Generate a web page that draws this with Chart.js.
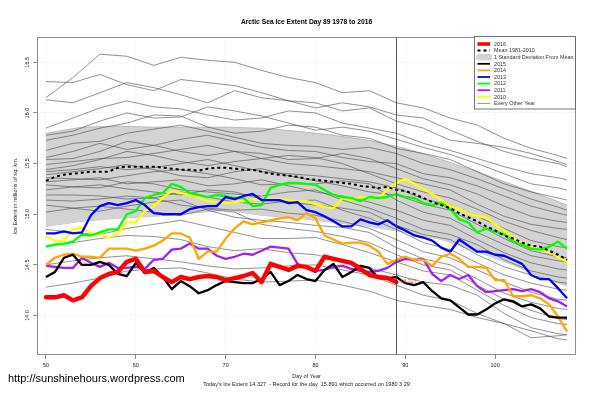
<!DOCTYPE html>
<html><head><meta charset="utf-8">
<script src="https://cdn.jsdelivr.net/npm/chart.js@4.4.1/dist/chart.umd.min.js"></script>
<style>html,body{margin:0;padding:0;background:#fff}canvas{display:block}</style>
</head><body>
<canvas id="c" width="600" height="399"></canvas>
<script>
const FAM = '"Liberation Sans", Arial, sans-serif';
const titleText = 'Arctic Sea Ice Extent Day 89 1978 to 2016';
const yTitle = 'Ice Extent in millions of sq. km.';
const xTitle = 'Day of Year';
const subText = "Today's Ice Extent 14.327  - Record for the day  15.891 which occurred on 1980 3 29";
const urlText = 'http://sunshinehours.wordpress.com';
const markDay = 89;
const todayValue = 14.327;
const todayLabel = '14.327';

const xTicks = [50, 60, 70, 80, 90, 100];
const yTicks = [14.0, 14.5, 15.0, 15.5, 16.0, 16.5];
const yTickLabels = ['14.0', '14.5', '15.0', '15.5', '16.0', '16.5'];

const days = [50,51,52,53,54,55,56,57,58,59,60,61,62,63,64,65,66,67,68,69,70,71,72,73,74,75,76,77,78,79,
  80,81,82,83,84,85,86,87,88,89,90,91,92,93,94,95,96,97,98,99,100,101,102,103,104,105,106,107,108];

const y2016 = [14.18,14.18,14.20,14.15,14.18,14.29,14.37,14.41,14.43,14.53,14.56,14.43,14.44,14.38,14.33,14.38,14.36,14.38,14.39,14.38,
  14.35,14.37,14.39,14.42,14.33,14.51,14.48,14.45,14.49,14.48,14.44,14.58,14.56,14.54,14.52,14.46,14.40,14.38,14.37,14.33];
const y2015 = [14.38,14.43,14.57,14.60,14.50,14.50,14.53,14.50,14.41,14.39,14.52,14.42,14.47,14.38,14.26,14.34,14.29,14.22,14.25,14.30,
  14.34,14.33,14.32,14.32,14.36,14.43,14.30,14.34,14.40,14.36,14.34,14.45,14.51,14.38,14.43,14.49,14.47,14.37,14.37,14.38,
  14.32,14.30,14.33,14.24,14.17,14.15,14.08,14.01,14.01,14.06,14.12,14.16,14.14,14.09,14.11,14.07,13.99,13.98,13.98];
const y2014 = [14.50,14.57,14.60,14.61,14.58,14.58,14.57,14.66,14.66,14.66,14.64,14.66,14.69,14.74,14.81,14.81,14.77,14.56,14.63,14.63,
  14.76,14.86,14.93,14.90,14.92,14.94,14.96,14.97,14.94,15.01,14.96,14.79,14.75,14.71,14.72,14.72,14.69,14.63,14.51,14.55,
  14.58,14.55,14.55,14.49,14.58,14.61,14.56,14.48,14.48,14.47,14.35,14.35,14.19,14.19,14.20,14.17,14.11,13.99,13.84];
const y2013 = [14.81,14.81,14.83,14.81,14.82,14.99,15.08,15.11,15.09,15.11,15.14,15.09,15.01,15.00,15.00,15.00,15.05,15.07,15.08,15.08,
  15.17,15.15,15.18,15.20,15.14,15.14,15.14,15.11,15.12,15.04,15.02,14.98,14.93,14.88,14.88,14.95,14.92,14.90,14.94,14.88,
  14.84,14.79,14.77,14.74,14.67,14.63,14.75,14.69,14.63,14.63,14.60,14.59,14.55,14.51,14.40,14.36,14.36,14.27,14.17];
const y2012 = [14.68,14.70,14.71,14.73,14.80,14.79,14.82,14.85,14.85,15.00,15.03,15.16,15.19,15.21,15.30,15.27,15.21,15.19,15.17,15.19,
  15.18,15.16,15.16,15.08,15.09,15.26,15.29,15.31,15.31,15.30,15.29,15.24,15.19,15.17,15.16,15.13,15.17,15.16,15.17,15.20,
  15.17,15.16,15.11,15.09,15.11,15.05,14.95,14.92,14.82,14.86,14.83,14.80,14.73,14.70,14.66,14.65,14.68,14.73,14.66];
const y2011 = [14.49,14.48,14.47,14.47,14.57,14.52,14.48,14.52,14.47,14.47,14.48,14.46,14.55,14.56,14.65,14.66,14.71,14.66,14.66,14.59,
  14.56,14.58,14.61,14.60,14.64,14.68,14.67,14.66,14.51,14.47,14.44,14.45,14.48,14.49,14.46,14.44,14.43,14.44,14.47,14.53,
  14.56,14.55,14.56,14.41,14.34,14.40,14.36,14.40,14.29,14.23,14.24,14.25,14.26,14.24,14.26,14.23,14.17,14.14,14.09];
const y2010 = [14.78,14.74,14.74,14.85,14.87,14.81,14.80,14.77,14.81,14.92,14.92,15.03,15.08,15.16,15.23,15.21,15.19,15.16,15.13,15.12,
  15.11,15.12,15.13,15.15,15.14,15.15,15.15,15.14,15.13,15.13,15.10,15.07,15.06,15.16,15.14,15.17,15.16,15.16,15.24,15.31,
  15.35,15.30,15.25,15.20,15.14,15.08,15.05,15.01,14.98,14.97,14.90,14.84,14.77,14.71,14.68,14.65,14.63,14.58,14.53];
const meanValues = [15.33,15.37,15.39,15.40,15.41,15.42,15.42,15.42,15.46,15.47,15.47,15.47,15.47,15.46,15.45,15.44,15.44,15.43,15.45,15.46,
  15.46,15.45,15.44,15.44,15.42,15.40,15.39,15.38,15.37,15.35,15.34,15.33,15.32,15.31,15.30,15.28,15.27,15.26,15.27,15.24,
  15.23,15.20,15.16,15.12,15.09,15.06,15.01,14.97,14.93,14.88,14.84,14.79,14.76,14.72,14.69,14.68,14.64,14.60,14.55];

const bandDays = [50,54,58,62,66,70,74,78,82,86,90,94,98,102,106,108];
const bandUpper = [15.80,15.86,15.87,15.86,15.86,15.86,15.85,15.82,15.78,15.73,15.65,15.54,15.42,15.29,15.16,15.09];
const bandLower = [14.88,14.93,14.96,14.98,15.01,15.04,14.99,14.96,14.92,14.88,14.82,14.75,14.63,14.50,14.35,14.29];

const grayDays = [50,53,56,59,62,65,68,71,74,77,80,83,86,89,92,95,98,101,104,107,108];
const grayYears = [
  [16.15,16.35,16.58,16.56,16.47,16.55,16.52,16.50,16.42,16.35,16.30,16.20,16.22,16.10,16.05,15.95,15.88,15.75,15.65,15.58,15.55],
  [16.31,16.30,16.38,16.28,16.22,16.33,16.30,16.27,16.20,16.12,16.05,16.10,16.06,15.98,15.95,15.83,15.72,15.62,15.55,15.50,15.47],
  [16.13,16.10,16.20,16.30,16.25,16.18,16.10,16.22,16.15,16.12,16.10,16.02,16.05,15.92,15.85,15.73,15.70,15.66,15.60,15.52,15.49],
  [15.85,15.95,16.05,16.12,16.06,16.04,15.98,15.93,15.95,16.02,16.00,15.90,15.85,15.80,15.70,15.63,15.55,15.47,15.40,15.36,15.34],
  [15.78,15.82,15.92,16.00,15.95,15.96,16.06,16.02,15.97,15.90,15.83,15.86,15.82,15.74,15.66,15.59,15.50,15.40,15.30,15.26,15.24],
  [15.73,15.78,15.85,15.90,15.98,15.97,15.86,15.80,15.82,15.88,15.86,15.78,15.75,15.65,15.60,15.54,15.42,15.30,15.22,15.16,15.14],
  [15.63,15.70,15.72,15.80,15.84,15.88,15.82,15.76,15.70,15.68,15.67,15.64,15.66,15.60,15.50,15.44,15.35,15.25,15.15,15.07,15.04],
  [15.56,15.62,15.70,15.64,15.68,15.74,15.78,15.72,15.66,15.63,15.62,15.56,15.52,15.50,15.40,15.36,15.28,15.18,15.08,15.01,14.99],
  [15.54,15.55,15.62,15.72,15.68,15.62,15.58,15.62,15.60,15.54,15.55,15.60,15.55,15.45,15.35,15.29,15.20,15.08,14.98,14.93,14.92],
  [15.49,15.52,15.55,15.56,15.60,15.64,15.68,15.62,15.55,15.50,15.48,15.45,15.42,15.36,15.30,15.24,15.10,14.98,14.90,14.86,14.85],
  [15.44,15.48,15.54,15.62,15.58,15.52,15.48,15.52,15.55,15.58,15.56,15.50,15.40,15.30,15.22,15.16,15.05,14.93,14.84,14.77,14.75],
  [15.42,15.44,15.47,15.44,15.46,15.50,15.54,15.48,15.42,15.40,15.38,15.35,15.32,15.26,15.15,15.09,14.98,14.86,14.74,14.68,14.67],
  [15.39,15.42,15.45,15.49,15.44,15.38,15.36,15.42,15.45,15.38,15.33,15.28,15.22,15.19,15.10,15.04,14.90,14.76,14.64,14.58,14.57],
  [15.36,15.35,15.34,15.38,15.42,15.44,15.40,15.35,15.29,15.30,15.30,15.33,15.30,15.14,15.02,14.96,14.82,14.70,14.59,14.54,14.53],
  [15.32,15.34,15.36,15.30,15.32,15.34,15.28,15.30,15.34,15.28,15.22,15.18,15.12,15.04,14.94,14.89,14.75,14.62,14.52,14.46,14.45],
  [15.29,15.27,15.26,15.32,15.30,15.24,15.22,15.20,15.18,15.22,15.24,15.14,15.06,14.96,14.85,14.80,14.70,14.55,14.44,14.38,14.37],
  [15.24,15.27,15.29,15.25,15.22,15.19,15.24,15.22,15.15,15.12,15.09,15.06,15.02,14.89,14.80,14.75,14.60,14.48,14.40,14.33,14.32],
  [15.19,15.19,15.18,15.15,15.16,15.22,15.17,15.12,15.10,15.13,15.14,15.04,14.96,14.85,14.72,14.65,14.52,14.40,14.32,14.26,14.25],
  [15.14,15.13,15.15,15.18,15.16,15.09,15.06,15.04,15.05,15.01,14.99,14.93,14.86,14.75,14.63,14.57,14.45,14.33,14.23,14.16,14.15],
  [15.09,15.06,15.03,15.08,15.12,15.14,15.04,14.97,14.94,14.92,14.89,14.87,14.82,14.67,14.56,14.50,14.36,14.22,14.13,14.07,14.06],
  [15.02,15.06,15.08,15.05,15.02,14.99,15.05,15.02,14.90,14.86,14.83,14.78,14.72,14.60,14.50,14.45,14.30,14.16,14.05,13.97,13.96],
  [14.85,14.82,14.80,14.86,14.90,14.94,14.88,14.82,14.76,14.76,14.77,14.70,14.62,14.53,14.44,14.40,14.25,14.10,13.98,13.92,13.91],
  [14.68,14.72,14.76,14.79,14.78,14.75,14.68,14.64,14.66,14.62,14.60,14.54,14.47,14.40,14.33,14.30,14.20,14.02,13.88,13.82,13.81],
  [14.50,14.54,14.57,14.59,14.56,14.53,14.49,14.46,14.47,14.49,14.50,14.45,14.40,14.30,14.20,14.15,14.02,13.92,13.78,13.80,13.81],
  [14.28,14.32,14.37,14.44,14.46,14.47,14.42,14.36,14.33,14.34,14.35,14.30,14.24,14.15,14.10,14.06,13.98,13.92,13.85,13.77,13.76]
];

const legendItems = [
  {label:'2016', color:'#ff0000', width:3.5},
  {label:'Mean 1981-2010', color:'#000', width:2, dash:[3,3]},
  {label:'1 Standard Deviation From Mean', box:'#d3d3d3'},
  {label:'2015', color:'#000000', width:1.8},
  {label:'2014', color:'#ffa500', width:1.8},
  {label:'2013', color:'#0000ff', width:1.8},
  {label:'2012', color:'#00ff00', width:1.8},
  {label:'2011', color:'#a020f0', width:1.8},
  {label:'2010', color:'#ffff00', width:1.8},
  {label:'Every Other Year', color:'#777', width:0.8}
];

function pts(xs, ys) { return ys.map((v, i) => ({x: xs[i], y: v})); }
function line(data, color, width, order, extra) {
  return Object.assign({data, borderColor: color, borderWidth: width, pointRadius: 0, fill: false, order}, extra || {});
}

const datasets = [];
datasets.push(line(pts(days, y2016), '#ff0000', 4.4, 0, {borderCapStyle:'round'}));
datasets.push(line(pts(days, meanValues), '#000000', 2, 1, {borderDash:[3,3]}));
datasets.push(line(pts(days, y2015), '#000000', 2.3, 2));
datasets.push(line(pts(days, y2014), '#ffa500', 2.3, 3));
datasets.push(line(pts(days, y2013), '#0000ff', 2.3, 4));
datasets.push(line(pts(days, y2012), '#00ff00', 2.3, 5));
datasets.push(line(pts(days, y2011), '#a020f0', 2.3, 6));
datasets.push(line(pts(days, y2010), '#ffff00', 2.3, 7));
grayYears.forEach((g, i) => datasets.push(line(pts(grayDays, g), 'rgba(70,70,70,0.85)', 0.7, 20 + i)));
datasets.push(line(pts(bandDays, bandUpper), '#9a9a9a', 0.6, 100, {fill: '+1', backgroundColor: '#d3d3d3'}));
datasets.push(line(pts(bandDays, bandLower), '#9a9a9a', 0.6, 101));

const decor = {
  id: 'decor',
  afterDatasetsDraw(chart) {
    const {ctx, chartArea: a, scales: {x, y}} = chart;
    ctx.save();
    const xv = Math.round(x.getPixelForValue(markDay)) + 0.5;
    ctx.strokeStyle = '#333'; ctx.lineWidth = 0.8;
    ctx.beginPath(); ctx.moveTo(xv, a.top); ctx.lineTo(xv, a.bottom); ctx.stroke();
    ctx.fillStyle = '#ff3c3c'; ctx.font = '5.4px ' + FAM;
    ctx.textAlign = 'left'; ctx.textBaseline = 'middle';
    ctx.fillText(todayLabel, x.getPixelForValue(markDay) + 4, y.getPixelForValue(todayValue) - 0.5);
    ctx.strokeStyle = '#8c8c8c'; ctx.lineWidth = 1;
    ctx.strokeRect(Math.round(a.left) + 0.5, Math.round(a.top) + 0.5, Math.round(a.right - a.left) - 1, Math.round(a.bottom - a.top) - 1);
    const lx = 474.5, ly = 36.5, lw = a.right - 0.5 - lx, lh = 72.5;
    ctx.fillStyle = '#fff'; ctx.fillRect(lx, ly, lw, lh);
    ctx.strokeStyle = '#555'; ctx.lineWidth = 0.8; ctx.strokeRect(lx, ly, lw, lh);
    ctx.font = '5.4px ' + FAM; ctx.textBaseline = 'middle';
    legendItems.forEach((it, i) => {
      const cy = 44 + i * 6.6;
      if (it.box) {
        ctx.fillStyle = it.box;
        ctx.beginPath();
        if (ctx.roundRect) ctx.roundRect(476, cy - 3.3, 16, 6.6, 3); else ctx.rect(476, cy - 3.3, 16, 6.6);
        ctx.fill();
      } else {
        ctx.strokeStyle = it.color; ctx.lineWidth = it.width;
        ctx.setLineDash(it.dash || []);
        ctx.beginPath(); ctx.moveTo(477.5, cy); ctx.lineTo(490, cy); ctx.stroke();
        ctx.setLineDash([]);
      }
      ctx.fillStyle = '#333';
      ctx.fillText(it.label, 494, cy + 0.3);
    });
    ctx.restore();
  },
  afterDraw(chart) {
    const {ctx, chartArea: a, scales: {y}} = chart;
    const cx = (a.left + a.right) / 2;
    ctx.save();
    ctx.fillStyle = '#000'; ctx.textAlign = 'center'; ctx.textBaseline = 'middle';
    ctx.font = 'bold 6.7px ' + FAM;
    ctx.fillText(titleText, cx, 22);
    ctx.font = '5.5px ' + FAM;
    ctx.fillStyle = '#222';
    ctx.fillText(xTitle, cx, 376);
    ctx.fillText(subText, cx, 384);
    yTicks.forEach((v, i) => {
      ctx.save();
      ctx.translate(27.5, y.getPixelForValue(v));
      ctx.rotate(-Math.PI / 2);
      ctx.fillText(yTickLabels[i], 0, 0);
      ctx.restore();
    });
    ctx.save();
    ctx.translate(15.5, (a.top + a.bottom) / 2);
    ctx.rotate(-Math.PI / 2);
    ctx.font = '5.6px ' + FAM;
    ctx.fillText(yTitle, 0, 0);
    ctx.restore();
    ctx.textAlign = 'left';
    ctx.fillStyle = '#000';
    ctx.font = '11px ' + FAM;
    ctx.fillText(urlText, 8, 378.5);
    ctx.restore();
  }
};

new Chart(document.getElementById('c'), {
  type: 'line',
  data: {datasets},
  options: {
    responsive: false,
    animation: false,
    layout: {padding: {left: 0, right: 24, top: 37, bottom: 0}},
    plugins: {legend: {display: false}, tooltip: {enabled: false}, title: {display: false}},
    elements: {point: {radius: 0}, line: {tension: 0, borderJoinStyle: 'round'}},
    scales: {
      x: {
        type: 'linear', min: 49, max: 109,
        afterBuildTicks: s => { s.ticks = xTicks.map(v => ({value: v})); },
        afterFit: s => { s.height = 44; },
        ticks: {font: {size: 5.5, family: FAM}, color: '#222', padding: 3, maxRotation: 0, autoSkip: false},
        grid: {color: '#e2e2e2', lineWidth: 0.8, tickLength: 4, tickColor: '#8c8c8c', tickWidth: 1},
        border: {display: false, dash: [1, 2]}
      },
      y: {
        type: 'linear', min: 13.61, max: 16.75,
        afterBuildTicks: s => { s.ticks = yTicks.map(v => ({value: v})); },
        afterFit: s => { s.width = 37; },
        ticks: {display: false},
        grid: {color: '#e2e2e2', lineWidth: 0.8, tickLength: 4, tickColor: '#8c8c8c', tickWidth: 1},
        border: {display: false, dash: [1, 2]}
      }
    }
  },
  plugins: [decor]
});
</script>
</body></html>
